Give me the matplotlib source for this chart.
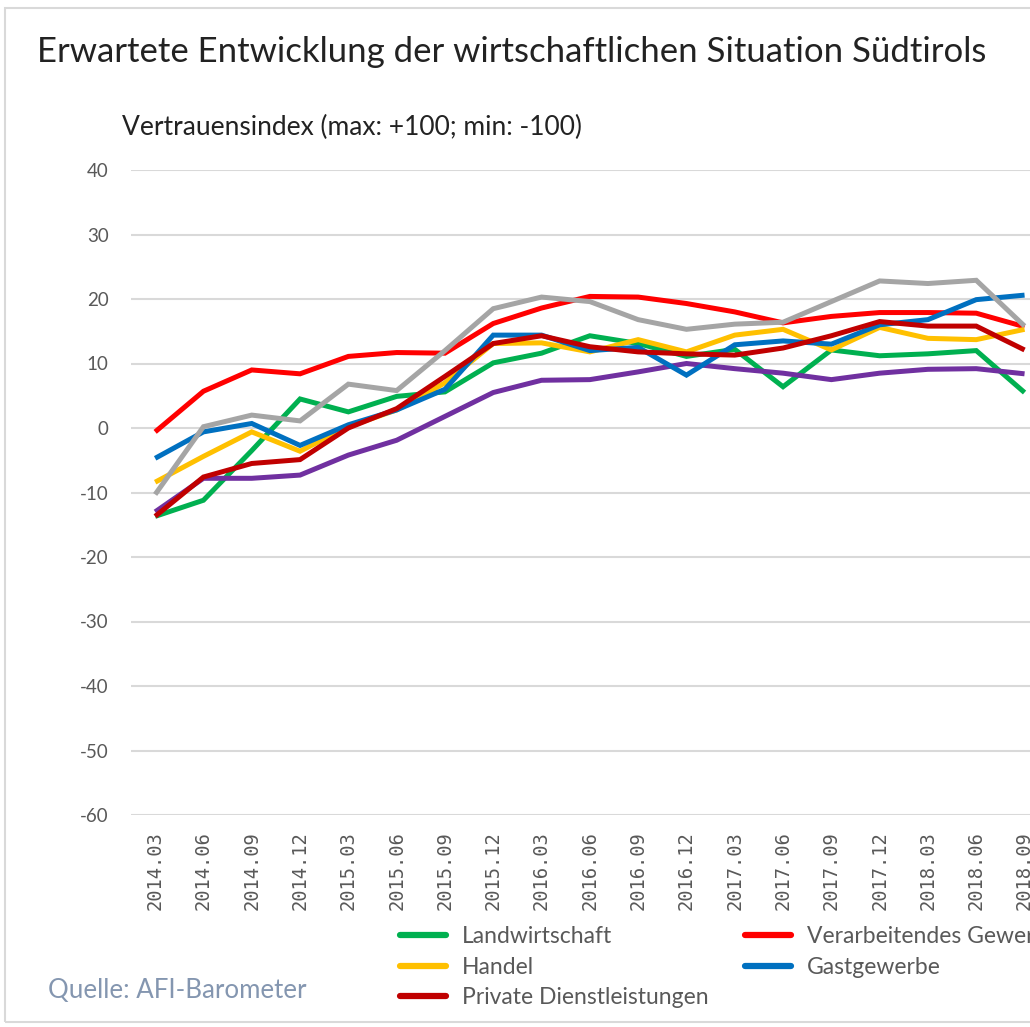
import matplotlib.pyplot as plt
from matplotlib.patches import Rectangle

plt.rcParams["axes.unicode_minus"] = False

# Quartale (x-Achse), rechts abgeschnitten wie im Original
quarters = ["2014.03", "2014.06", "2014.09", "2014.12", "2015.03", "2015.06",
            "2015.09", "2015.12", "2016.03", "2016.06", "2016.09", "2016.12",
            "2017.03", "2017.06", "2017.09", "2017.12", "2018.03", "2018.06",
            "2018.09"]

landwirtschaft = [-13.7, -11.2, -3.5, 4.5, 2.5, 4.9, 5.6, 10.1, 11.6, 14.3,
                  13.1, 11.1, 12.2, 6.4, 12.1, 11.2, 11.5, 12.0, 5.5]
verarbeitendes = [-0.6, 5.7, 9.0, 8.4, 11.1, 11.7, 11.6, 16.2, 18.6, 20.4,
                  20.3, 19.3, 18.0, 16.3, 17.3, 17.9, 17.9, 17.8, 15.7]
serie_lila = [-13.0, -7.8, -7.8, -7.3, -4.2, -1.9, 1.8, 5.5, 7.4, 7.5,
              8.7, 10.0, 9.2, 8.5, 7.5, 8.5, 9.1, 9.2, 8.4]
handel = [-8.4, -4.4, -0.6, -3.6, 0.2, 2.8, 7.0, 13.1, 13.2, 11.8,
          13.7, 11.8, 14.4, 15.3, 12.1, 15.6, 13.9, 13.7, 15.3]
gastgewerbe = [-4.7, -0.6, 0.7, -2.7, 0.5, 2.8, 6.0, 14.4, 14.4, 12.0,
               12.5, 8.2, 12.9, 13.5, 13.0, 16.0, 16.8, 19.9, 20.6]
serie_grau = [-10.3, 0.2, 2.0, 1.1, 6.8, 5.8, 12.0, 18.5, 20.3, 19.6,
              16.8, 15.3, 16.1, 16.4, 19.6, 22.8, 22.4, 22.9, 15.8]
private_dl = [-13.7, -7.6, -5.5, -4.9, 0.0, 3.0, 8.0, 13.1, 14.3, 12.6,
              11.8, 11.5, 11.3, 12.4, 14.3, 16.5, 15.8, 15.8, 12.1]

series = [
    ("Landwirtschaft", landwirtschaft, "#00B050"),
    ("Verarbeitendes Gewerbe", verarbeitendes, "#FF0000"),
    ("_lila", serie_lila, "#7030A0"),
    ("Handel", handel, "#FFC000"),
    ("Gastgewerbe", gastgewerbe, "#0070C0"),
    ("_grau", serie_grau, "#A5A5A5"),
    ("Private Dienstleistungen", private_dl, "#C00000"),
]

W, H = 1030, 1027
fig = plt.figure(figsize=(W / 100, H / 100), dpi=100)
fig.patch.set_facecolor("white")

# Achse reicht ueber den rechten Rand hinaus (Bild ist abgeschnitten)
n_cat = 20
ax_left, ax_top, ax_bottom = 131, 170, 815
ax = fig.add_axes([ax_left / W, 1 - ax_bottom / H,
                   n_cat * 48.3 / W, (ax_bottom - ax_top) / H])

x = list(range(len(quarters)))
lines = {}
for name, vals, col in series:
    (ln,) = ax.plot(x, vals, color=col, linewidth=3.6, label=name,
                    solid_joinstyle="miter", solid_capstyle="butt")
    lines[name] = ln

ax.set_xlim(-0.5, n_cat - 0.5)
ax.set_ylim(-60, 40)
ax.set_yticks(range(-60, 41, 10))
ax.set_xticks(x)
ax.set_xticklabels(quarters, rotation=90, fontsize=13.5,
                   family="DejaVu Sans Mono", color="#595959")
ax.tick_params(axis="y", labelsize=13.5, labelcolor="#595959", length=0, pad=16)
ax.tick_params(axis="x", length=0, pad=12)
for lbl in ax.get_yticklabels():
    lbl.set_family("Lato")
ax.grid(axis="y", color="#D9D9D9", linewidth=1.5)
ax.set_axisbelow(True)
for sp in ax.spines.values():
    sp.set_visible(False)

fig.text(37 / W, 1 - 52 / H, "Erwartete Entwicklung der wirtschaftlichen Situation Südtirols",
         fontsize=25.0, family="Lato", color="#222222", va="center", ha="left")
fig.text(122 / W, 1 - 127 / H, "Vertrauensindex (max: +100; min: -100)",
         fontsize=19, family="Lato", color="#222222", va="center", ha="left")
fig.text(48 / W, 1 - 990 / H, "Quelle: AFI-Barometer",
         fontsize=18.6, family="Lato", color="#8496B0", va="center", ha="left")

leg_kw = dict(loc="upper left", frameon=False, handlelength=2.0,
              handletextpad=0.7, labelspacing=0.42, borderpad=0, borderaxespad=0,
              prop={"family": "Lato", "size": 16.5})
col1 = ["Landwirtschaft", "Handel", "Private Dienstleistungen"]
col2 = ["Verarbeitendes Gewerbe", "Gastgewerbe"]
leg1 = fig.legend([lines[n] for n in col1], col1,
                  bbox_to_anchor=(400 / W, 1 - 926 / H), **leg_kw)
leg2 = fig.legend([lines[n] for n in col2], col2,
                  bbox_to_anchor=(745 / W, 1 - 926 / H), **leg_kw)
for leg in (leg1, leg2):
    for t in leg.get_texts():
        t.set_color("#595959")
    for h in leg.legend_handles:
        h.set_linewidth(4.5)
        h.set_solid_capstyle("round")

# duenner Rahmen um das Diagramm
fig.patches.append(Rectangle((5 / W, 5 / H), 1.2, 1 - 13 / H,
                             transform=fig.transFigure, fill=False,
                             edgecolor="#D9D9D9", linewidth=1.5))

fig.savefig("out.png", dpi=100)
